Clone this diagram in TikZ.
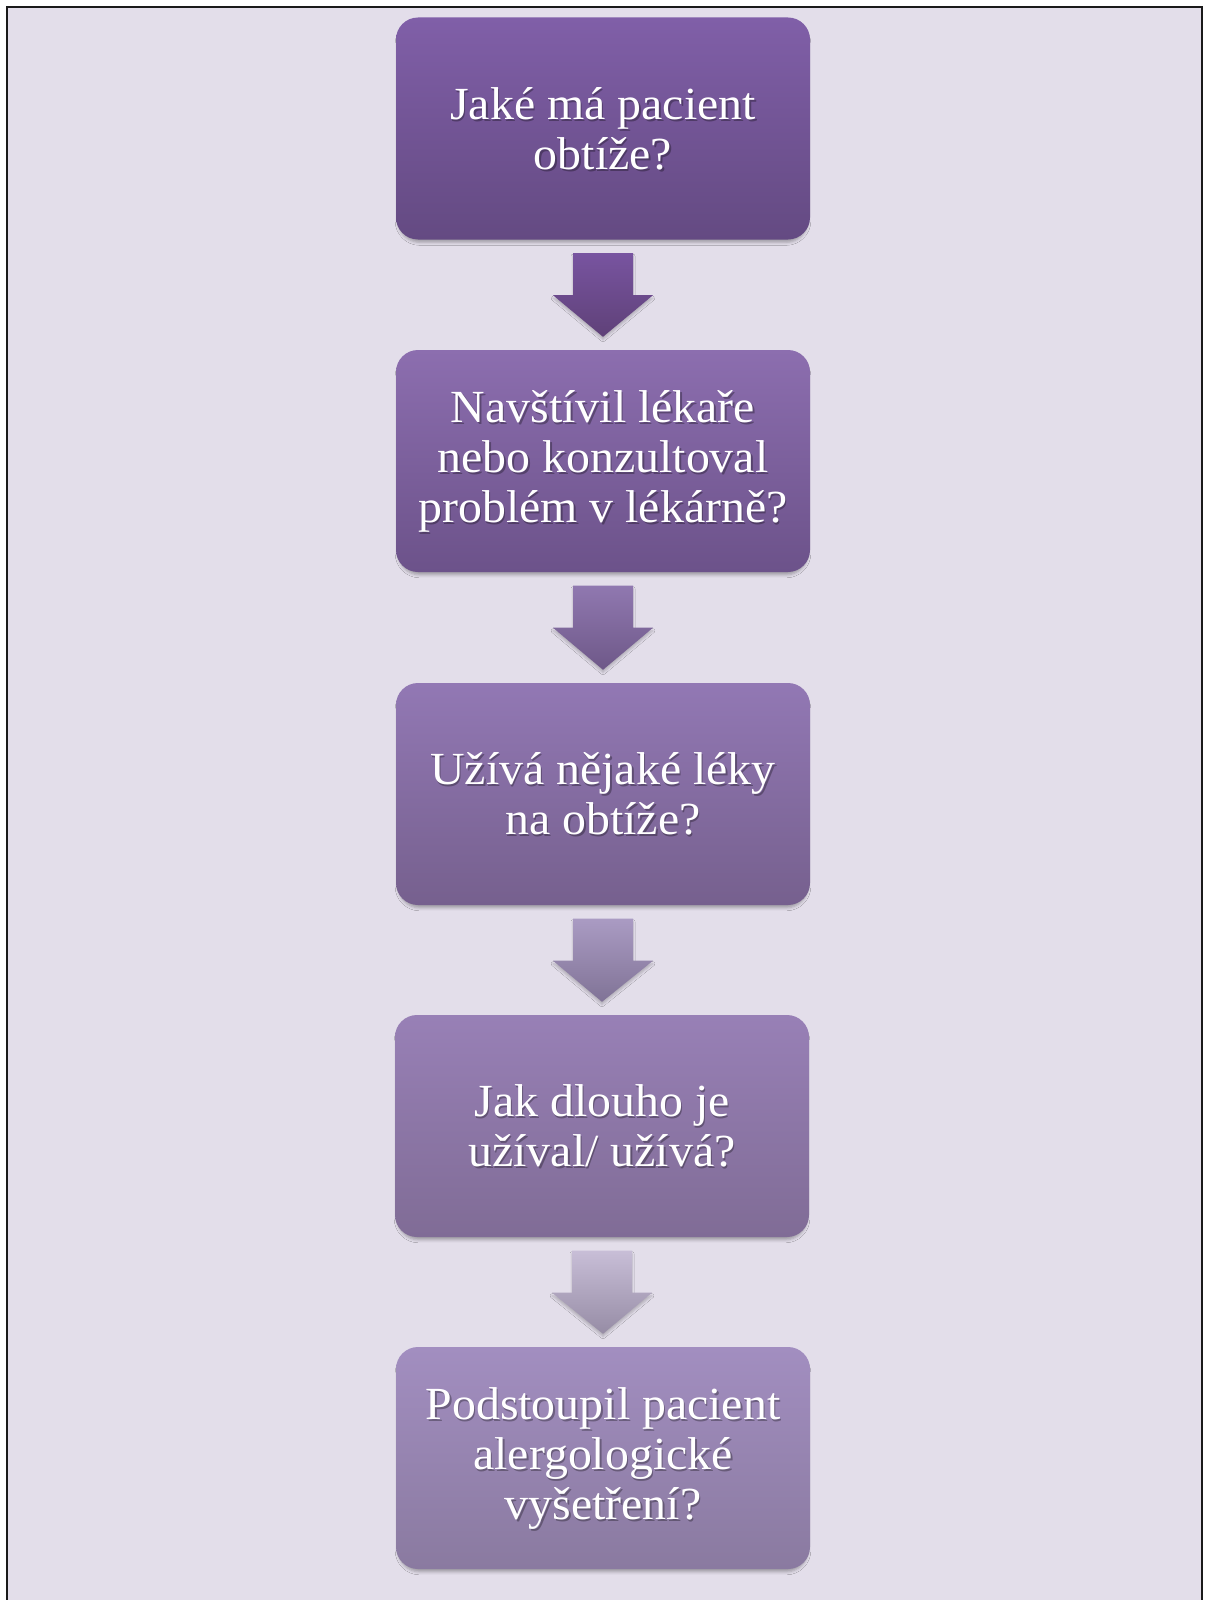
\documentclass[tikz,border=0pt]{standalone}
\usepackage{fontspec}
\setmainfont[FakeStretch=1.04]{Liberation Serif}
\usetikzlibrary{calc,shadows.blur}
\definecolor{bgc}{HTML}{E3DEEA}
\definecolor{frame}{HTML}{1A1A1A}
\definecolor{bAt}{HTML}{805FA8}\definecolor{bAb}{HTML}{644A82}
\definecolor{bBt}{HTML}{8C6EAF}\definecolor{bBb}{HTML}{6C528A}
\definecolor{bCt}{HTML}{9278B4}\definecolor{bCb}{HTML}{76608E}
\definecolor{bDt}{HTML}{9880B6}\definecolor{bDb}{HTML}{806C96}
\definecolor{bEt}{HTML}{A28EC0}\definecolor{bEb}{HTML}{8A7AA0}
\definecolor{aAt}{HTML}{7854A0}\definecolor{aAb}{HTML}{5F4178}
\definecolor{aBt}{HTML}{9078B0}\definecolor{aBb}{HTML}{6E5888}
\definecolor{aCt}{HTML}{AA9BC3}\definecolor{aCb}{HTML}{807396}
\definecolor{aDt}{HTML}{C8BED7}\definecolor{aDb}{HTML}{968CA5}
\tikzset{
  box/.style={minimum width=414pt, minimum height=222pt, rounded corners=22pt, inner sep=0pt,
    blur shadow={shadow xshift=0pt, shadow yshift=-4pt, shadow scale=0.99, shadow blur radius=3pt, shadow opacity=30}},
  btext/.style={text=white, align=center, font=\fontsize{46}{50}\selectfont, inner sep=0pt},
  bshadow/.style={btext, text=black, opacity=0.3},
  arrowshape/.style={blur shadow={shadow xshift=0pt, shadow yshift=-3pt, shadow blur radius=2pt, shadow opacity=20}},
}
\newcommand\flowarrow[4]{%
  \shade[arrowshape, top color=#3, bottom color=#4]
    ($(#1.south)+(-30,13.5)$) -- ($(#1.south)+(30,13.5)$) -- ($(#1.south)+(30,55.5)$)
    -- ($(#1.south)+(50,55.5)$) -- ($(#2.north)+(0,-13)$) -- ($(#1.south)+(-50,55.5)$)
    -- ($(#1.south)+(-30,55.5)$) -- cycle;}
\newcommand\flowbox[5]{%
  \node[box, top color=#4, bottom color=#5] (#1) at (#2) {};
  \node[bshadow] (#1s) at ($(#1.center)+(1.5,2)$) {#3};
  \node[btext] (#1t) at (#1.center) {#3};}
\begin{document}
\begin{tikzpicture}[x=1pt,y=-1pt]
\useasboundingbox (0,0) rectangle (1205,1600);
\fill[white] (0,0) rectangle (1205,1600);
\fill[bgc] (7,7) rectangle (1202,1600);
\draw[frame, line width=2.2pt] (7,1600) -- (7,7) -- (1202,7) -- (1202,1600);
\flowbox{b1}{603,128.5}{Jaké má pacient\\obtíže?}{bAt}{bAb}
\flowbox{b2}{603,461}{Navštívil lékaře\\nebo konzultoval\\problém v lékárně?}{bBt}{bBb}
\flowbox{b3}{603,794}{Užívá nějaké léky\\na obtíže?}{bCt}{bCb}
\flowbox{b4}{602,1126}{Jak dlouho je\\užíval/ užívá?}{bDt}{bDb}
\flowbox{b5}{603,1458}{Podstoupil pacient\\alergologické\\vyšetření?}{bEt}{bEb}
\flowarrow{b1}{b2}{aAt}{aAb}
\flowarrow{b2}{b3}{aBt}{aBb}
\flowarrow{b3}{b4}{aCt}{aCb}
\flowarrow{b4}{b5}{aDt}{aDb}
\end{tikzpicture}
\end{document}
